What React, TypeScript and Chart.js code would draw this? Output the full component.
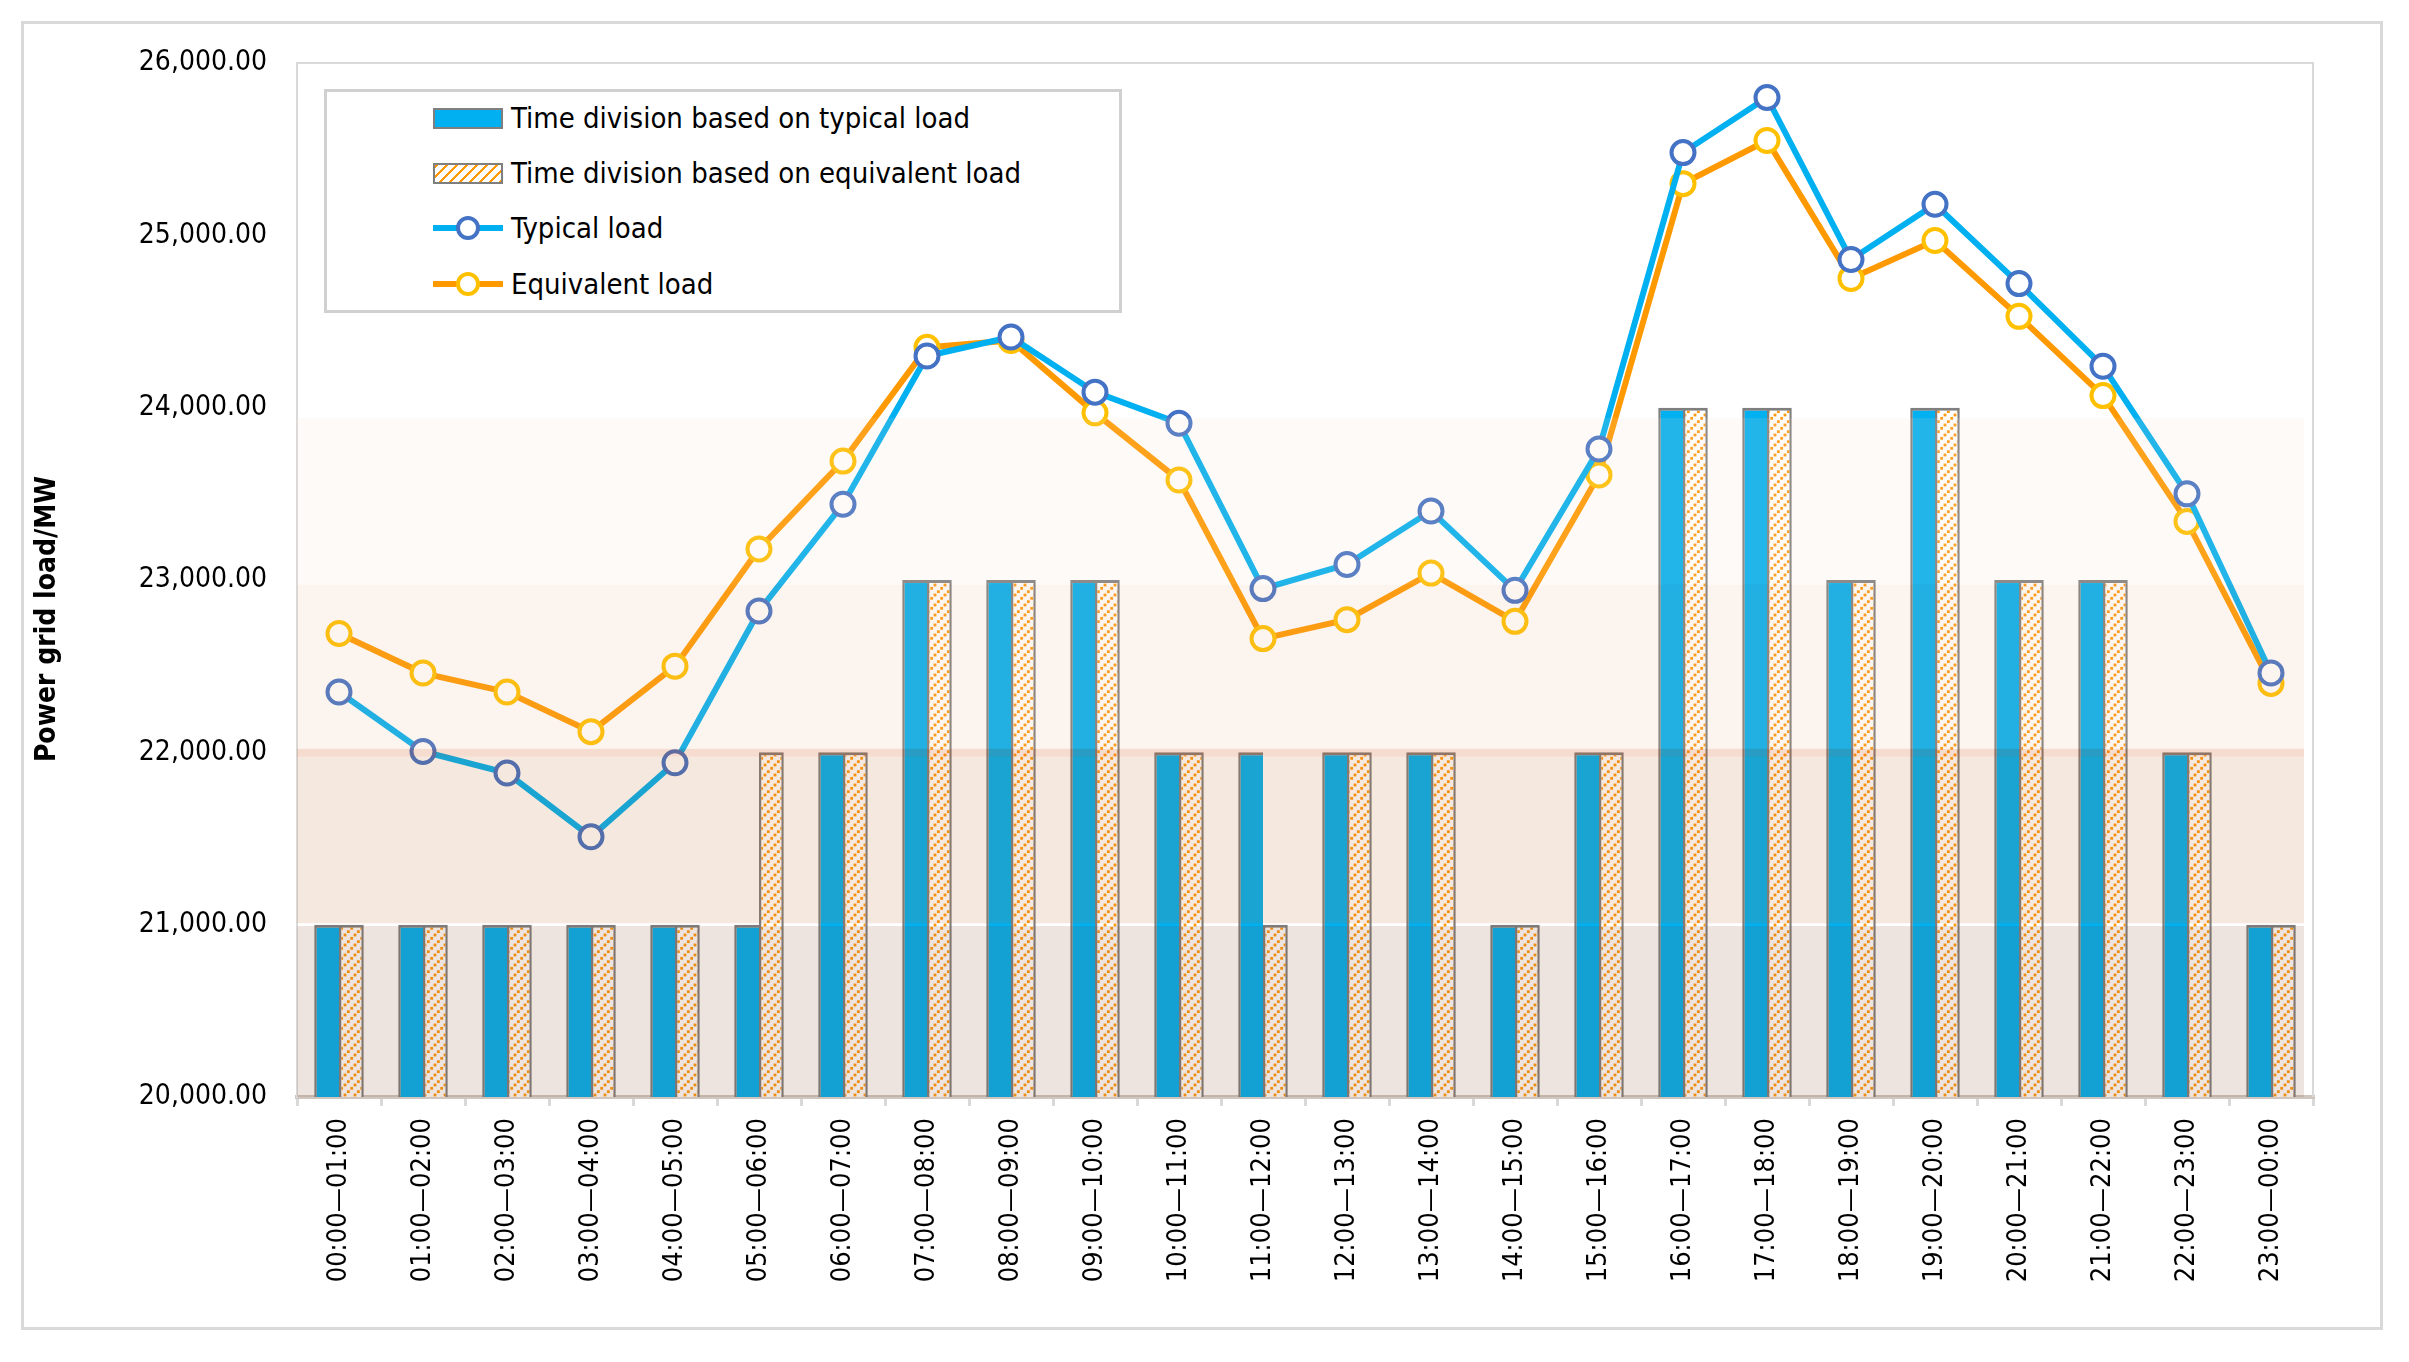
import { useEffect, useRef } from 'react';
import { Chart, registerables } from 'chart.js';

Chart.register(...registerables);

const hours = [
  '00:00—01:00', '01:00—02:00', '02:00—03:00', '03:00—04:00', '04:00—05:00', '05:00—06:00',
  '06:00—07:00', '07:00—08:00', '08:00—09:00', '09:00—10:00', '10:00—11:00', '11:00—12:00',
  '12:00—13:00', '13:00—14:00', '14:00—15:00', '15:00—16:00', '16:00—17:00', '17:00—18:00',
  '18:00—19:00', '19:00—20:00', '20:00—21:00', '21:00—22:00', '22:00—23:00', '23:00—00:00',
];

// division levels (bars)
const typicalDivision = [
  21000, 21000, 21000, 21000, 21000, 21000, 22000, 23000, 23000, 23000, 22000, 22000,
  22000, 22000, 21000, 22000, 24000, 24000, 23000, 24000, 23000, 23000, 22000, 21000,
];
const equivalentDivision = [
  21000, 21000, 21000, 21000, 21000, 22000, 22000, 23000, 23000, 23000, 22000, 21000,
  22000, 22000, 21000, 22000, 24000, 24000, 23000, 24000, 23000, 23000, 22000, 21000,
];

// load curves (lines)
const typicalLoad = [
  22350, 22005, 21880, 21510, 21940, 22820, 23440, 24300, 24410, 24090, 23910, 22950,
  23090, 23400, 22940, 23760, 25480, 25800, 24860, 25180, 24720, 24240, 23500, 22460,
];
const equivalentLoad = [
  22690, 22460, 22350, 22120, 22500, 23180, 23690, 24350, 24390, 23970, 23580, 22660,
  22770, 23040, 22760, 23610, 25300, 25550, 24750, 24970, 24530, 24070, 23340, 22400,
];

const yMin = 20000;
const yMax = 26000;
const yStep = 1000;

// shaded level bands over the plot, in MW
const bandFrom = [20000, 21008, 21975, 22020, 22973];
const bandTo = [20992, 21975, 22020, 22973, 23940];
const bandColors = [
  'rgba(131,69,34,0.145)',
  'rgba(184,92,21,0.141)',
  'rgba(205,80,15,0.2)',
  'rgba(234,177,135,0.141)',
  'rgba(248,218,196,0.137)',
];

const legendLabels = [
  'Time division based on typical load',
  'Time division based on equivalent load',
  'Typical load',
  'Equivalent load',
];

const FONT = '"DejaVu Sans Condensed", "DejaVu Sans", sans-serif';

function makeHatch(): CanvasPattern | string {
  const c = document.createElement('canvas');
  c.width = 10;
  c.height = 10;
  const g = c.getContext('2d');
  if (!g) return '#ffffff';
  g.fillStyle = '#ffffff';
  g.fillRect(0, 0, 10, 10);
  g.fillStyle = '#ff9a10';
  [10 / 6, 5, 50 / 6].forEach((x) => {
    g.fillRect(x - 1.4, 10 - x - 1.4, 2.8, 2.8);
  });
  return g.createPattern(c, 'repeat') || '#ffffff';
}

const overlayPlugin = {
  id: 'overlay',
  beforeDatasetsDraw(chart: any) {
    const { ctx, chartArea } = chart;
    ctx.save();
    ctx.strokeStyle = '#d9d9d9';
    ctx.lineWidth = 2;
    ctx.beginPath();
    ctx.moveTo(chartArea.left, chartArea.top);
    ctx.lineTo(chartArea.right, chartArea.top);
    ctx.lineTo(chartArea.right, chartArea.bottom);
    ctx.stroke();
    ctx.restore();
  },
  afterDatasetsDraw(chart: any) {
    const { ctx, chartArea, scales } = chart;
    const y = scales.y;
    ctx.save();
    bandFrom.forEach((from, i) => {
      const top = y.getPixelForValue(bandTo[i]);
      const bottom = y.getPixelForValue(from);
      ctx.fillStyle = bandColors[i];
      ctx.fillRect(chartArea.left, top, chartArea.right - 9 - chartArea.left, bottom - top);
    });
    ctx.restore();
  },
  afterDraw(chart: any) {
    const { ctx } = chart;
    ctx.save();
    ctx.translate(48, 619);
    ctx.rotate(-Math.PI / 2);
    ctx.font = `bold 28px ${FONT}`;
    ctx.fillStyle = '#000';
    ctx.textAlign = 'center';
    ctx.textBaseline = 'middle';
    ctx.fillText('Power grid load/MW', 0, 0);
    ctx.restore();
  },
};

function Legend() {
  const rowTop = [118, 173, 228, 284];
  const swatch = (i: number) => {
    if (i === 0) {
      return <div style={{ width: 66, height: 17, background: '#00b0f0', border: '2px solid #7f7f7f' }} />;
    }
    if (i === 1) {
      return (
        <div
          style={{
            width: 66,
            height: 17,
            border: '2px solid #7f7f7f',
            background: 'repeating-linear-gradient(-45deg, #ff9900 0 2px, #ffffff 2px 7px)',
          }}
        />
      );
    }
    const line = i === 2 ? '#00b0f0' : '#ff9900';
    const mark = i === 2 ? '#4472c4' : '#ffc000';
    return (
      <div style={{ position: 'relative', width: 70, height: 24 }}>
        <div style={{ position: 'absolute', left: 0, right: 0, top: 9, height: 6, background: line }} />
        <div
          style={{
            position: 'absolute', left: 23, top: 0, width: 16, height: 16,
            borderRadius: '50%', border: `4px solid ${mark}`, background: '#fff',
          }}
        />
      </div>
    );
  };
  return (
    <>
      <div
        style={{
          position: 'absolute', left: 324, top: 89, width: 792, height: 218,
          border: '3px solid #d0d0d0', background: '#fff',
        }}
      />
      {legendLabels.map((label, i) => (
        <div
          key={label}
          style={{
            position: 'absolute', left: 433, top: rowTop[i] - 20, height: 40,
            display: 'flex', alignItems: 'center', gap: 8,
            fontFamily: FONT, fontSize: 29, color: '#000', whiteSpace: 'nowrap',
          }}
        >
          {swatch(i)}
          <span>{label}</span>
        </div>
      ))}
    </>
  );
}

export default function App() {
  const canvasRef = useRef<HTMLCanvasElement>(null);

  useEffect(() => {
    if (!canvasRef.current) return;
    const hatch = makeHatch();

    const chart = new Chart(canvasRef.current, {
      type: 'bar',
      data: {
        labels: hours,
        datasets: [
          {
            type: 'line',
            label: legendLabels[2],
            data: typicalLoad,
            borderColor: '#00b0f0',
            borderWidth: 6,
            pointRadius: 11.5,
            pointBorderWidth: 4,
            pointBorderColor: '#4472c4',
            pointBackgroundColor: '#ffffff',
            tension: 0,
            order: 0,
          },
          {
            type: 'line',
            label: legendLabels[3],
            data: equivalentLoad,
            borderColor: '#ff9900',
            borderWidth: 6,
            pointRadius: 11.5,
            pointBorderWidth: 4,
            pointBorderColor: '#ffc000',
            pointBackgroundColor: '#ffffff',
            tension: 0,
            order: 1,
          },
          {
            type: 'bar',
            label: legendLabels[0],
            data: typicalDivision,
            base: yMin,
            backgroundColor: '#00b0f0',
            borderColor: '#7f7f7f',
            borderWidth: { top: 3, left: 2.5, right: 0, bottom: 0 },
            borderSkipped: false,
            barPercentage: 1,
            categoryPercentage: 0.59,
            order: 2,
          },
          {
            type: 'bar',
            label: legendLabels[1],
            data: equivalentDivision,
            base: yMin,
            backgroundColor: hatch as any,
            borderColor: '#7f7f7f',
            borderWidth: { top: 3, left: 2.5, right: 2.5, bottom: 0 },
            borderSkipped: false,
            barPercentage: 1,
            categoryPercentage: 0.59,
            order: 3,
          },
        ] as any,
      },
      options: {
        responsive: false,
        animation: false,
        devicePixelRatio: 1,
        layout: { padding: { left: 36, top: 63, right: 96, bottom: 0 } },
        plugins: {
          legend: { display: false },
          tooltip: { enabled: false },
        },
        scales: {
          x: {
            type: 'category',
            offset: true,
            grid: {
              display: true,
              drawOnChartArea: false,
              drawTicks: true,
              tickLength: 9,
              color: '#d9d9d9',
              lineWidth: 3,
              offset: true,
            },
            border: { display: true, color: '#cfc6c0', width: 4 },
            ticks: {
              autoSkip: false,
              minRotation: 90,
              maxRotation: 90,
              padding: 12,
              color: '#000',
              font: { family: FONT, size: 27 },
            },
            afterFit: (s: any) => {
              s.height = 265;
            },
          },
          y: {
            min: yMin,
            max: yMax,
            grid: { display: false, drawTicks: false },
            border: { display: true, color: '#d9d9d9', width: 2 },
            ticks: {
              stepSize: yStep,
              padding: 30,
              color: '#000',
              font: { family: FONT, size: 28 },
              callback: (v: any) =>
                Number(v).toLocaleString('en-US', { minimumFractionDigits: 2, maximumFractionDigits: 2 }),
            },
            afterFit: (s: any) => {
              s.width = 261;
            },
          },
        },
      },
      plugins: [overlayPlugin],
    });

    return () => chart.destroy();
  }, []);

  return (
    <div style={{ position: 'fixed', left: 0, top: 0, width: 2409, height: 1362, background: '#fff' }}>
      <div
        style={{
          position: 'absolute', left: 21, top: 21, width: 2356, height: 1303,
          border: '3px solid #d9d9d9',
        }}
      />
      <canvas ref={canvasRef} width={2409} height={1362} style={{ position: 'absolute', left: 0, top: 0, display: 'block' }} />
      <Legend />
    </div>
  );
}
